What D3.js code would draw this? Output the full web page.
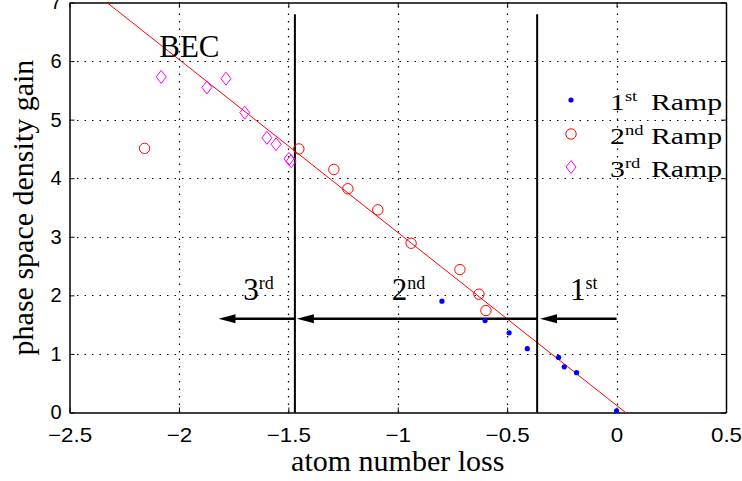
<!DOCTYPE html>
<html><head><meta charset="utf-8">
<script src="https://cdn.jsdelivr.net/npm/d3@7"></script>
<style>body{margin:0;background:#fff}svg{display:block}</style>
</head><body>
<script>
const xTicks = [-2.5, -2, -1.5, -1, -0.5, 0, 0.5];
const yTicks = [0, 1, 2, 3, 4, 5, 6, 7];
const ramp1X = [-0.798, -0.601, -0.491, -0.408, -0.265, -0.239, -0.183, 0.0];
const ramp1Y = [1.90, 1.57, 1.36, 1.09, 0.94, 0.78, 0.68, 0.03];
const ramp2X = [-2.157, -1.452, -1.292, -1.228, -1.091, -0.939, -0.716, -0.629, -0.597];
const ramp2Y = [4.51, 4.50, 4.15, 3.82, 3.46, 2.89, 2.44, 2.02, 1.74];
const ramp3X = [-2.081, -1.872, -1.785, -1.699, -1.598, -1.556, -1.497, -1.487];
const ramp3Y = [5.73, 5.55, 5.70, 5.12, 4.69, 4.58, 4.33, 4.29];
const fitX = [-2.329, 0.041];
const fitY = [7, 0];
const boundaryX = [-1.47, -0.363];
const boundaryTop = 6.8;
const arrowFrom = [0, -0.363, -1.47];
const arrowTo = [-0.350, -1.461, -1.819];
const arrowY = 1.6;
const stageNum = ["1", "2", "3"];
const stageSup = ["st", "nd", "rd"];
const stageLabelX = [-0.213, -1.027, -1.706];
const stageLabelY = 1.92;
const legendNames = ["Ramp", "Ramp", "Ramp"];

const W = 742, H = 481;
const svg = d3.select("body").append("svg").attr("width", W).attr("height", H);
const x = d3.scaleLinear().domain([-2.5, 0.5]).range([69.5, 726]);
const y = d3.scaleLinear().domain([0, 7]).range([412.5, 2.5]);
const px = v => Math.round(v) + 0.5;
const serif = "'Liberation Serif', 'Times New Roman', serif";
const sans = "'Liberation Sans', Arial, sans-serif";

// grid
const grid = svg.append("g").attr("stroke", "#000").attr("stroke-width", 1.2).attr("stroke-dasharray", "1.5,6");
grid.selectAll(".gx").data(xTicks.slice(1, -1)).join("line")
  .attr("x1", d => px(x(d))).attr("x2", d => px(x(d))).attr("y1", y(0)).attr("y2", y(7));
grid.selectAll(".gy").data(yTicks.slice(1, -1)).join("line")
  .attr("y1", d => px(y(d))).attr("y2", d => px(y(d))).attr("x1", x(-2.5)).attr("x2", x(0.5));

// axes
const fmt = d => d3.format("")(d).replace("-", "\u2212");
const xAxis = d3.axisBottom(x).tickValues(xTicks).tickSizeInner(-5).tickSizeOuter(0).tickPadding(15).tickFormat(fmt);
const gx = svg.append("g").attr("transform", `translate(0,${y(0)})`).call(xAxis);
const yAxis = d3.axisLeft(y).tickValues(yTicks).tickSizeInner(-5).tickSizeOuter(0).tickPadding(8).tickFormat(d3.format("d"));
const gy = svg.append("g").attr("transform", `translate(${x(-2.5)},0)`).call(yAxis);
const gxt = svg.append("g").attr("transform", `translate(0,${y(7)})`).call(d3.axisTop(x).tickValues(xTicks).tickSizeInner(-5).tickSizeOuter(0).tickFormat(""));
const gyr = svg.append("g").attr("transform", `translate(${x(0.5)},0)`).call(d3.axisRight(y).tickValues(yTicks).tickSizeInner(-5).tickSizeOuter(0).tickFormat(""));
[gx, gy, gxt, gyr].forEach(g => {
  g.select(".domain").attr("stroke", "#000").attr("stroke-width", 1.5);
  g.selectAll(".tick line").attr("stroke", "#000");
  g.selectAll("text").attr("font-family", sans).attr("font-size", 20).attr("fill", "#000");
});
gx.selectAll(".tick text").attr("transform", "scale(1.12,1)");

// axis titles
svg.append("text").attr("x", x(-1)).attr("y", 471).attr("text-anchor", "middle")
  .attr("font-family", serif).attr("font-size", 30).text("atom number loss");
svg.append("text").attr("transform", `translate(33,${(y(0) + y(7)) / 2}) rotate(-90)`)
  .attr("text-anchor", "middle").attr("font-family", serif).attr("font-size", 30).text("phase space density gain");

// fit line
svg.append("line").attr("x1", x(fitX[0])).attr("y1", y(fitY[0])).attr("x2", x(fitX[1])).attr("y2", y(fitY[1]))
  .attr("stroke", "#ff0000").attr("stroke-width", 1);

// boundaries
svg.selectAll(".bnd").data(boundaryX).join("line")
  .attr("x1", d => x(d)).attr("x2", d => x(d)).attr("y1", y(0)).attr("y2", y(boundaryTop))
  .attr("stroke", "#000").attr("stroke-width", 2);

// arrows
const ag = svg.append("g");
arrowFrom.forEach((f, i) => {
  const tip = x(arrowTo[i]), yy = y(arrowY);
  ag.append("line").attr("x1", x(f)).attr("x2", tip + 12).attr("y1", yy).attr("y2", yy)
    .attr("stroke", "#000").attr("stroke-width", 2.5);
  ag.append("path").attr("d", `M${tip},${yy}L${tip + 17},${yy - 4.5}L${tip + 17},${yy + 4.5}Z`).attr("fill", "#000");
});

// stage labels
stageNum.forEach((n, i) => {
  const t = svg.append("text").attr("x", x(stageLabelX[i])).attr("y", y(stageLabelY))
    .attr("font-family", serif).attr("font-size", 31);
  t.append("tspan").text(n);
  t.append("tspan").attr("font-size", 18).attr("dy", -11).text(stageSup[i]);
});
svg.append("text").attr("x", x(-2.09)).attr("y", y(6.07)).attr("font-family", serif).attr("font-size", 31).text("BEC");

// markers
svg.append("g").selectAll("circle").data(ramp1X.map((d, i) => [d, ramp1Y[i]])).join("circle")
  .attr("cx", d => x(d[0])).attr("cy", d => y(d[1])).attr("r", 2.6).attr("fill", "#0000ff");
svg.append("g").selectAll("circle").data(ramp2X.map((d, i) => [d, ramp2Y[i]])).join("circle")
  .attr("cx", d => x(d[0])).attr("cy", d => y(d[1])).attr("r", 5.2).attr("fill", "none").attr("stroke", "#ff0000").attr("stroke-width", 1);
const diamond = (cx, cy) => `M${cx},${cy - 6.5}L${cx + 5},${cy}L${cx},${cy + 6.5}L${cx - 5},${cy}Z`;
svg.append("g").selectAll("path").data(ramp3X.map((d, i) => [d, ramp3Y[i]])).join("path")
  .attr("d", d => diamond(x(d[0]), y(d[1]))).attr("fill", "none").attr("stroke", "#ff00ff").attr("stroke-width", 1);

// legend
const legY = [100, 134, 167];
const lg = svg.append("g");
lg.append("circle").attr("cx", 571).attr("cy", legY[0]).attr("r", 2.6).attr("fill", "#0000ff");
lg.append("circle").attr("cx", 571).attr("cy", legY[1]).attr("r", 5.2).attr("fill", "none").attr("stroke", "#ff0000");
lg.append("path").attr("d", diamond(571, legY[2])).attr("fill", "none").attr("stroke", "#ff00ff");
stageNum.forEach((n, i) => {
  const g = lg.append("g").attr("transform", `translate(610,${legY[i] + 9.5}) scale(1.24,1)`);
  const t = g.append("text").attr("font-family", serif).attr("font-size", 24);
  t.append("tspan").text(n);
  t.append("tspan").attr("font-size", 15).attr("dy", -9).text(stageSup[i]);
  const g2 = lg.append("g").attr("transform", `translate(651,${legY[i] + 9.5}) scale(1.24,1)`);
  g2.append("text").attr("font-family", serif).attr("font-size", 24).text(legendNames[i]);
});
</script>
</body></html>
